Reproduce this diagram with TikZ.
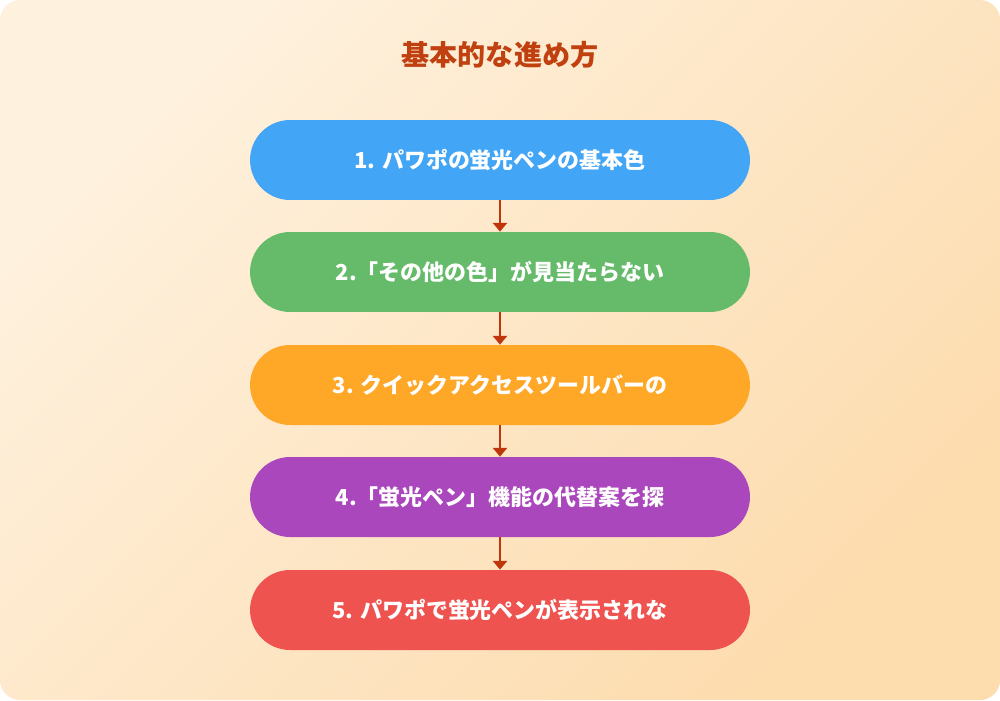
\documentclass[tikz,border=0pt]{standalone}
\usepackage{fontspec}
\setmainfont{Noto Sans CJK JP}
\usetikzlibrary{positioning,arrows.meta}
\definecolor{titlered}{HTML}{C0400F}
\definecolor{arrowred}{HTML}{BF360C}
\definecolor{stepblue}{HTML}{42A5F5}
\definecolor{stepgreen}{HTML}{66BB6A}
\definecolor{steporange}{HTML}{FFA726}
\definecolor{steppurple}{HTML}{AB47BC}
\definecolor{stepred}{HTML}{EF5350}
\definecolor{bgtop}{HTML}{FEF1DE}
\definecolor{bgbot}{HTML}{FDDCAE}
\begin{document}
\begin{tikzpicture}[x=0.02cm, y=-0.02cm,
  stepbox/.style={shape=rectangle, rounded corners=0.8cm, minimum width=10cm,
               minimum height=1.6cm, text=white, font=\bfseries\fontsize{12.5}{14}\selectfont},
  link/.style={draw=arrowred, line width=1.5pt, -{Triangle[width=8pt,length=5pt]}}]
  \useasboundingbox (0,0) rectangle (1000,700);
  \shade[left color=bgtop, right color=bgbot, shading angle=45, rounded corners=0.4cm]
    (0,0) rectangle (1000,700);
  \node[text=titlered, font=\bfseries\fontsize{16}{19}\selectfont] (title) at (500,55) {基本的な進め方};
  \node[stepbox, fill=stepblue] (s1) at (500,160) {1. パワポの蛍光ペンの基本色};
  \node[stepbox, fill=stepgreen] (s2) at (500,272) {2.「その他の色」が見当たらない};
  \node[stepbox, fill=steporange] (s3) at (500,385) {3. クイックアクセスツールバーの};
  \node[stepbox, fill=steppurple] (s4) at (500,497) {4.「蛍光ペン」機能の代替案を探};
  \node[stepbox, fill=stepred] (s5) at (500,610) {5. パワポで蛍光ペンが表示されな};
  \draw[link] (s1) -- (s2);
  \draw[link] (s2) -- (s3);
  \draw[link] (s3) -- (s4);
  \draw[link] (s4) -- (s5);
\end{tikzpicture}
\end{document}
